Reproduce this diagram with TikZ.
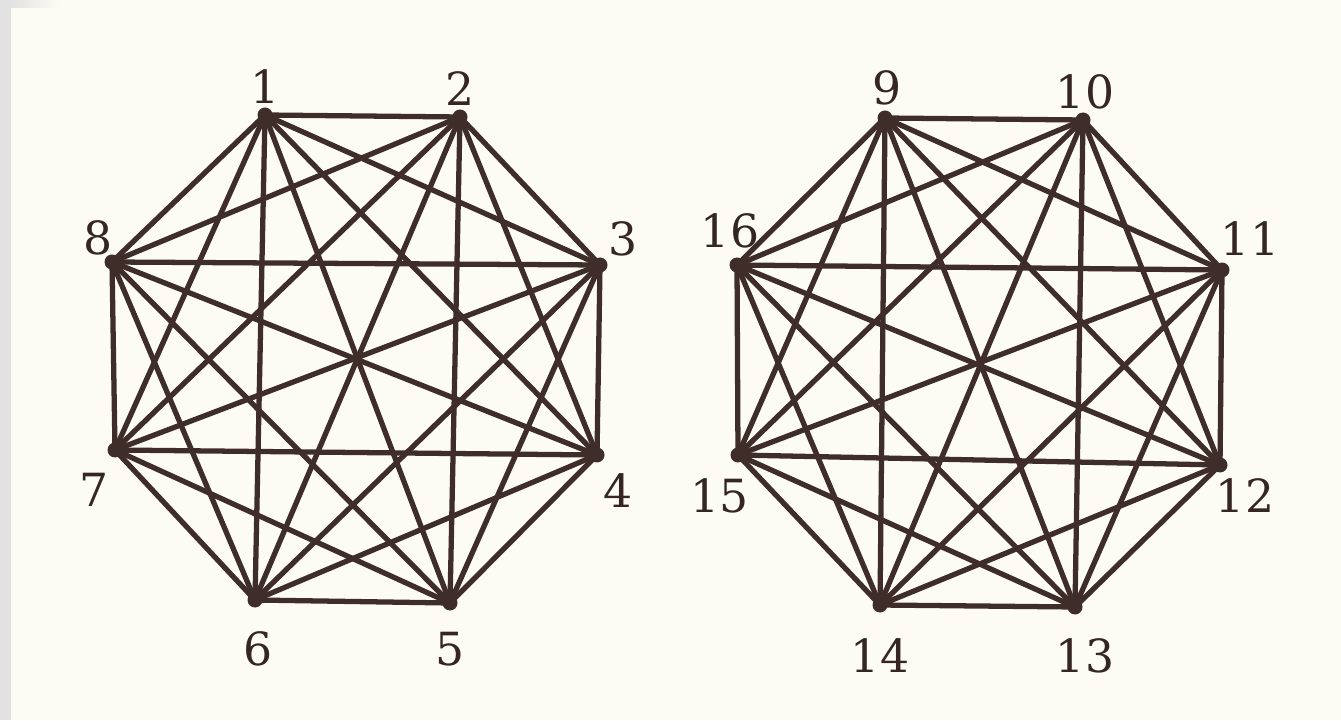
\documentclass[tikz,border=0pt]{standalone}
\usepackage{fontspec}
\setmainfont{DejaVu Serif}
\usepackage{tikz}
\definecolor{ink}{RGB}{62,45,40}
\definecolor{paper}{RGB}{253,252,244}
\definecolor{edge}{RGB}{226,226,226}
\tikzset{
  vlabel/.style={font=\fontsize{26}{30}\selectfont, text=ink!85!black, inner sep=0pt},
  link/.style={draw=ink, line width=3pt, line cap=round},
}
\begin{document}
\begin{tikzpicture}
\fill[paper] (0,0) rectangle (26.82,14.4);
\useasboundingbox (0,0) rectangle (26.82,14.4);
\fill[edge] (0,0) rectangle (0.22,14.4);
\fill[left color=edge, right color=paper] (0.22,14.24) rectangle (1.2,14.4);
% left graph
\coordinate (v1) at (5.30,12.10);
\coordinate (v2) at (9.20,12.06);
\coordinate (v3) at (12.00,9.10);
\coordinate (v4) at (11.94,5.30);
\coordinate (v5) at (9.00,2.34);
\coordinate (v6) at (5.10,2.40);
\coordinate (v7) at (2.30,5.40);
\coordinate (v8) at (2.24,9.16);
% right graph
\coordinate (v9) at (17.70,12.04);
\coordinate (v10) at (21.66,12.00);
\coordinate (v11) at (24.44,9.00);
\coordinate (v12) at (24.40,5.10);
\coordinate (v13) at (21.50,2.26);
\coordinate (v14) at (17.60,2.30);
\coordinate (v15) at (14.76,5.30);
\coordinate (v16) at (14.74,9.10);
\foreach \i in {1,...,7} {
  \pgfmathtruncatemacro\k{\i+1}
  \foreach \j in {\k,...,8} \draw[link] (v\i) -- (v\j);
}
\foreach \i in {9,...,15} {
  \pgfmathtruncatemacro\k{\i+1}
  \foreach \j in {\k,...,16} \draw[link] (v\i) -- (v\j);
}
\foreach \i in {1,...,16} \fill[ink] (v\i) circle (0.15);
\node[vlabel] (l1) at (5.30,12.66) {1};
\node[vlabel] (l2) at (9.20,12.62) {2};
\node[vlabel] (l3) at (12.46,9.62) {3};
\node[vlabel] (l4) at (12.36,4.58) {4};
\node[vlabel] (l5) at (9.00,1.42) {5};
\node[vlabel] (l6) at (5.16,1.42) {6};
\node[vlabel] (l7) at (1.88,4.60) {7};
\node[vlabel] (l8) at (1.96,9.64) {8};
\node[vlabel] (l9) at (17.74,12.64) {9};
\node[vlabel] (l10) at (21.70,12.56) {10};
\node[vlabel] (l11) at (25.00,9.62) {11};
\node[vlabel] (l12) at (24.90,4.48) {12};
\node[vlabel] (l13) at (21.70,1.28) {13};
\node[vlabel] (l14) at (17.60,1.28) {14};
\node[vlabel] (l15) at (14.40,4.48) {15};
\node[vlabel] (l16) at (14.60,9.78) {16};
\end{tikzpicture}
\end{document}
